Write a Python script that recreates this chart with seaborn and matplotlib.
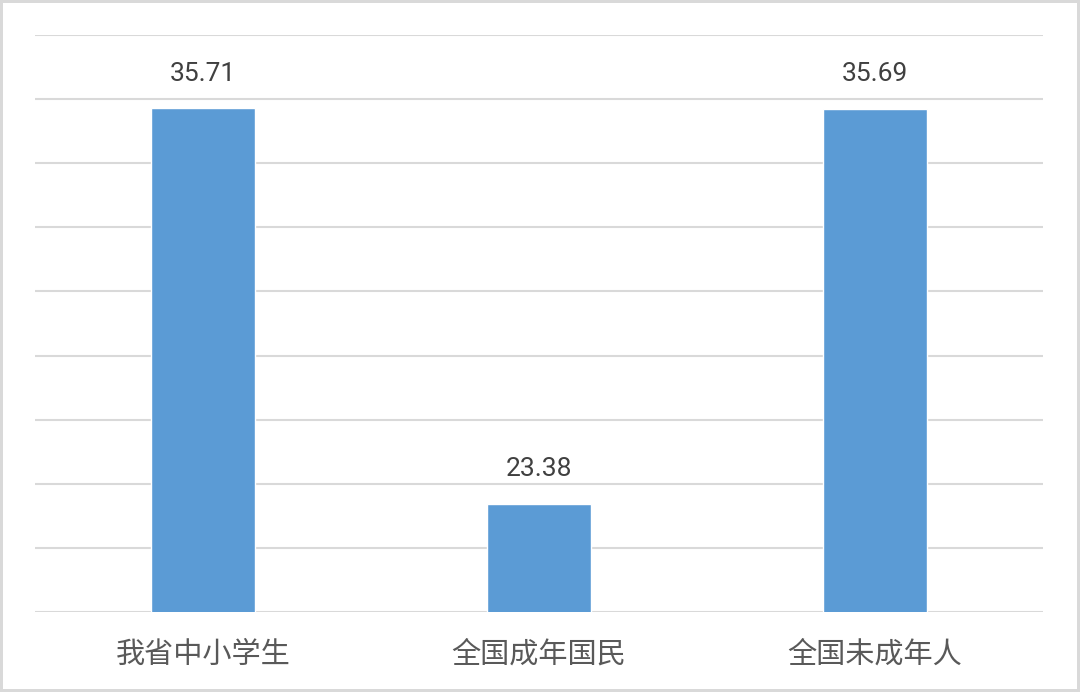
import matplotlib
matplotlib.use("Agg")
import matplotlib.pyplot as plt
import seaborn as sns
import pandas as pd

categories = ["我省中小学生", "全国成年国民", "全国未成年人"]
values = [35.71, 23.38, 35.69]
y_min, y_max, y_step = 20, 38, 2

sns.set_theme(style="white")
plt.rcParams["font.family"] = ["Noto Sans CJK SC", "DejaVu Sans"]

df = pd.DataFrame({"group": categories, "value": values})

fig = plt.figure(figsize=(10.8, 6.92), dpi=100)
fig.patch.set_edgecolor("#D9D9D9")
fig.patch.set_linewidth(3)
ax = fig.add_axes([35 / 1080, 80 / 692, 1008 / 1080, 577 / 692])

sns.barplot(data=df, x="group", y="value", color="#5B9BD5", width=0.31,
            saturation=1, ax=ax, zorder=3)

ax.set_ylim(y_min, y_max)
ax.set_yticks(range(y_min, y_max + 1, y_step))
ax.yaxis.grid(True, color="#D9D9D9", linewidth=1.5, zorder=0)
ax.tick_params(axis="y", left=False, labelleft=False)
ax.tick_params(axis="x", bottom=False, labelsize=21, labelcolor="#595959", pad=14)
for s in ax.spines.values():
    s.set_visible(False)
ax.set_xlabel("")
ax.set_ylabel("")

# value labels: digits look a bit spaced out in the original
for i, v in enumerate(values):
    ax.annotate(f"{v:.2f}", xy=(i, v), xytext=(0, 25), textcoords="offset points",
                ha="center", va="center", fontsize=19, color="#404040",
                family=["Roboto", "DejaVu Sans"])

fig.savefig("out.png", dpi=100)
